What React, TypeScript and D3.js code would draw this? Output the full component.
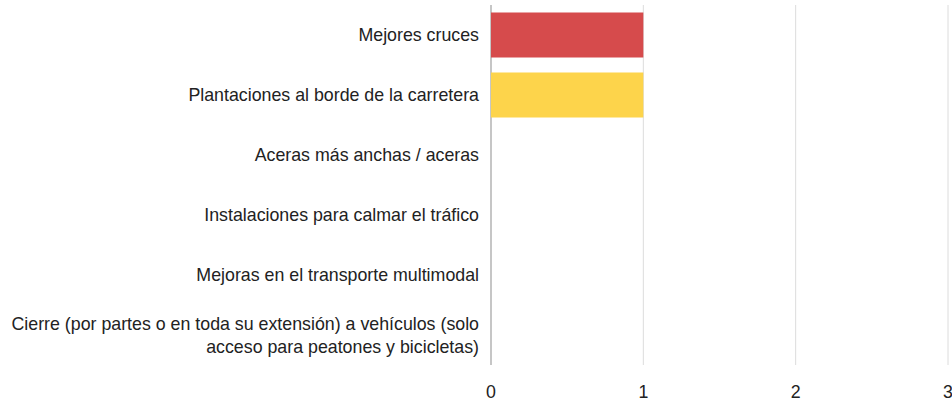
import React, { useRef, useEffect } from "react";
import * as d3 from "d3";

const categories: string[][] = [
  ["Mejores cruces"],
  ["Plantaciones al borde de la carretera"],
  ["Aceras más anchas / aceras"],
  ["Instalaciones para calmar el tráfico"],
  ["Mejoras en el transporte multimodal"],
  ["Cierre (por partes o en toda su extensión) a vehículos (solo", "acceso para peatones y bicicletas)"],
];
const values = [1, 1, 0, 0, 0, 0];
const barColors = ["#d64b4c", "#fdd44b", "#4a90c8", "#5cb85c", "#9b59b6", "#f39c12"];
const xTicks = [0, 1, 2, 3];

export default function App() {
  const svgRef = useRef<SVGSVGElement>(null);

  useEffect(() => {
    const width = 952, height = 408;
    const margin = { top: 5, right: 4, bottom: 43, left: 491 };
    const svg = d3.select(svgRef.current).attr("width", width).attr("height", height);
    svg.selectAll("*").remove();

    const x = d3.scaleLinear().domain([0, 3]).range([margin.left, width - margin.right]);
    const y = d3.scaleBand<number>()
      .domain(d3.range(categories.length))
      .range([margin.top, height - margin.bottom])
      .paddingInner(0.25)
      .paddingOuter(0.125);

    const font = "'Liberation Sans', Arial, sans-serif";

    // gridlines
    svg.append("g").selectAll("line").data(xTicks).join("line")
      .attr("x1", d => x(d)).attr("x2", d => x(d))
      .attr("y1", margin.top).attr("y2", height - margin.bottom)
      .attr("stroke", d => d === 0 ? "#c6c6c6" : "#dcdcdc")
      .attr("stroke-width", d => d === 0 ? 2 : 1);

    // bars
    svg.append("g").selectAll("rect").data(values).join("rect")
      .attr("x", x(0))
      .attr("y", (_, i) => y(i)!)
      .attr("width", d => x(d) - x(0))
      .attr("height", y.bandwidth())
      .attr("fill", (_, i) => barColors[i])
      .attr("opacity", d => d > 0 ? 1 : 0);

    // category labels
    const lineH = 23;
    const labels = svg.append("g").attr("font-family", font).attr("font-size", 17.8)
      .attr("fill", "#222").attr("text-anchor", "end");
    categories.forEach((lines, i) => {
      const cy = y(i)! + y.bandwidth() / 2;
      const t = labels.append("text").attr("x", margin.left - 12);
      lines.forEach((ln, j) => {
        t.append("tspan")
          .attr("x", margin.left - 12)
          .attr("y", cy + (j - (lines.length - 1) / 2) * lineH)
          .attr("dy", "0.35em")
          .text(ln);
      });
    });

    // x tick labels
    svg.append("g").attr("font-family", font).attr("font-size", 17.8).attr("fill", "#222")
      .attr("text-anchor", "middle")
      .selectAll("text").data(xTicks).join("text")
      .attr("x", d => x(d))
      .attr("y", 392)
      .attr("dy", "0.35em")
      .text(d => d3.format("d")(d));
  }, []);

  return (
    <div style={{ position: "absolute", left: 0, top: 0, width: 952, height: 408, background: "#fff" }}>
      <svg ref={svgRef} style={{ display: "block" }} />
    </div>
  );
}
